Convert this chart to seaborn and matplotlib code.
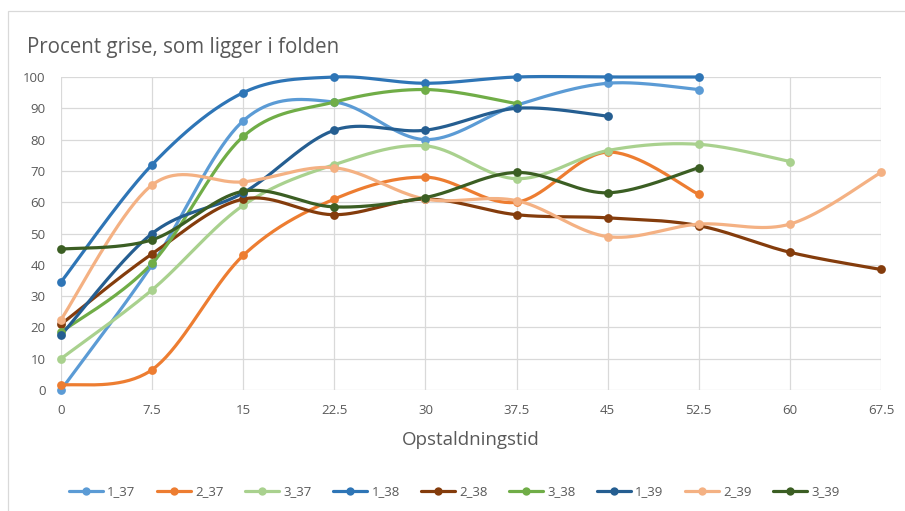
import numpy as np
import pandas as pd
import matplotlib
matplotlib.use("Agg")
import matplotlib.pyplot as plt
from matplotlib.lines import Line2D
from matplotlib.patches import Rectangle
import seaborn as sns

# Time axis (ticks) and per-run measurements
times = [0, 7.5, 15, 22.5, 30, 37.5, 45, 52.5, 60, 67.5]
x_ticklabels = ["0", "7.5", "15", "22.5", "30", "37.5", "45", "52.5", "60", "67.5"]

series_names = ["1_37", "2_37", "3_37", "1_38", "2_38", "3_38", "1_39", "2_39", "3_39"]

s_1_37 = [0, 40, 86, 92, 80, 91, 98, 96]
s_2_37 = [1.5, 6.5, 43, 61, 68, 60, 76, 62.5]
s_3_37 = [10, 32, 59, 72, 78, 67.5, 76.5, 78.5, 73]
s_1_38 = [34.5, 72, 95, 100, 98, 100, 100, 100]
s_2_38 = [21, 43.5, 61, 56, 61, 56, 55, 52.5, 44, 38.5]
s_3_38 = [18.5, 40.5, 81, 92, 96, 91.5]
s_1_39 = [17.5, 50, 63, 83, 83, 90, 87.5]
s_2_39 = [22.5, 65.5, 66.5, 71, 61, 60.5, 49, 53, 53, 69.5]
s_3_39 = [45, 48, 63.5, 58.5, 61.5, 69.5, 63, 71]

values = [s_1_37, s_2_37, s_3_37, s_1_38, s_2_38, s_3_38, s_1_39, s_2_39, s_3_39]

colors = ["#5B9BD5", "#ED7D31", "#A9D18E", "#2E75B6", "#843C0C",
          "#70AD47", "#255E91", "#F4B183", "#3B5E23"]

TEXT = "#595959"
GRID = "#D9D9D9"


def smooth_curve(xs, ys, n=40):
    """Bezier smoothing through every point (Catmull-Rom style tangents)."""
    pts = np.column_stack([xs, ys]).astype(float)
    m = len(pts)
    out = []
    for i in range(m - 1):
        p0 = pts[i - 1] if i > 0 else pts[i]
        p1 = pts[i]
        p2 = pts[i + 1]
        p3 = pts[i + 2] if i + 2 < m else pts[i + 1]
        c1 = p1 + (p2 - p0) / 6.0
        c2 = p2 - (p3 - p1) / 6.0
        t = np.linspace(0, 1, n)[:, None]
        seg = ((1 - t) ** 3) * p1 + 3 * ((1 - t) ** 2) * t * c1 \
            + 3 * (1 - t) * t ** 2 * c2 + t ** 3 * p2
        if i > 0:
            seg = seg[1:]
        out.append(seg)
    out = np.vstack(out)
    return out[:, 0], out[:, 1]


sns.set_theme(style="white")
plt.rcParams["font.family"] = ["Open Sans", "DejaVu Sans"]

fig = plt.figure(figsize=(9.05, 5.11), dpi=100)
ax = fig.add_axes([61 / 905, 1 - 390 / 511, (881 - 61) / 905, (390 - 77) / 511])

for name, vals, col in zip(series_names, values, colors):
    xs = times[:len(vals)]
    sx, sy = smooth_curve(xs, vals)
    dense = pd.DataFrame({"x": sx, "y": sy})
    pts = pd.DataFrame({"x": xs, "y": vals})
    sns.lineplot(data=dense, x="x", y="y", sort=False, estimator=None,
                 color=col, lw=2.3, ax=ax, legend=False, clip_on=False)
    sns.scatterplot(data=pts, x="x", y="y", color=col, s=40,
                    linewidth=0, ax=ax, legend=False, zorder=3, clip_on=False)

ax.set_xlim(0, 67.5)
ax.set_ylim(0, 100)
ax.set_xticks(times)
ax.set_xticklabels(x_ticklabels)
ax.set_yticks(np.arange(0, 101, 10))
ax.grid(True, color=GRID, lw=0.9)
ax.set_axisbelow(True)
for sp in ax.spines.values():
    sp.set_visible(False)
ax.tick_params(axis="both", length=0, colors=TEXT, labelsize=9.5)
ax.tick_params(axis="y", pad=11)
ax.tick_params(axis="x", pad=10)
ax.set_ylabel("")
ax.set_xlabel("Opstaldningstid", color=TEXT, fontsize=13.5, labelpad=10)

fig.text(27 / 905, 1 - 47 / 511, "Procent grise, som ligger i folden",
         color=TEXT, fontsize=14.8, ha="left", va="center")

handles = [Line2D([0], [0], color=c, lw=2.3, marker="o", markersize=6,
                  markeredgewidth=0) for c in colors]
fig.legend(handles, series_names, loc="center", ncol=9,
           bbox_to_anchor=(0.502, 1 - 492 / 511), frameon=False,
           fontsize=9.5, labelcolor=TEXT, handlelength=2.6,
           handletextpad=0.3, columnspacing=1.62)

# chart area outline
fig.patches.append(Rectangle((8 / 905, -0.2), 1.2, 0.2 + (1 - 11 / 511),
                             transform=fig.transFigure, fill=False,
                             edgecolor=GRID, lw=0.9))

fig.savefig("out.png", dpi=100, facecolor="white")
